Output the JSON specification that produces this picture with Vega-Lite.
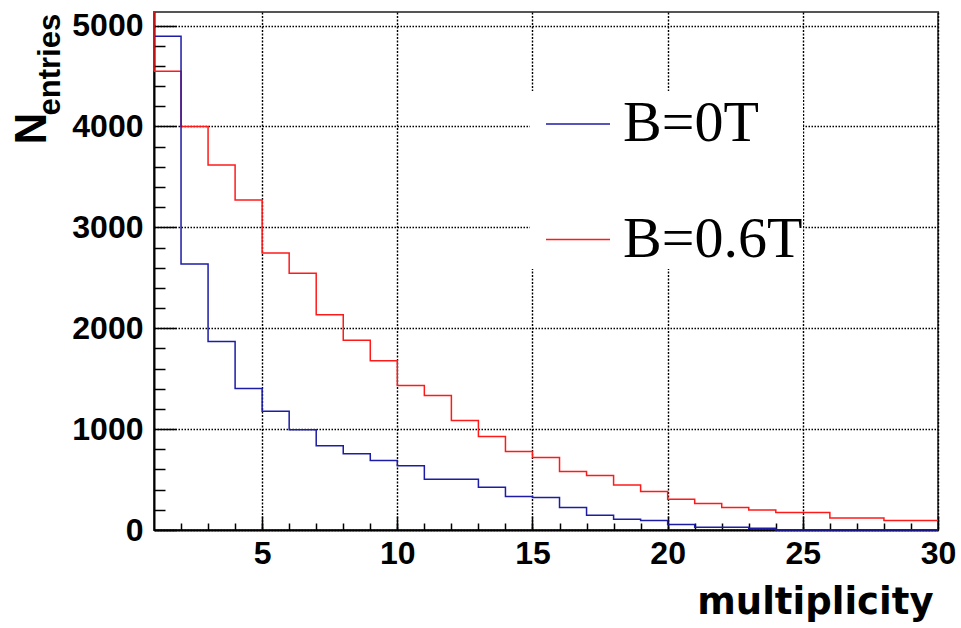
{
  "$schema": "https://vega.github.io/schema/vega-lite/v6.json",
  "width": 784,
  "height": 518,
  "autosize": {"type": "none"},
  "padding": {"left": 154, "top": 12, "right": 23, "bottom": 98},
  "background": "white",
  "config": {"view": {"stroke": "#555555", "strokeWidth": 2}},
  "datasets": {
    "hist": [
      {"m": 1, "n": 4548, "B": "B=0.6T"}, {"m": 2, "n": 4000, "B": "B=0.6T"}, {"m": 3, "n": 3619, "B": "B=0.6T"},
      {"m": 4, "n": 3272, "B": "B=0.6T"}, {"m": 5, "n": 2746, "B": "B=0.6T"}, {"m": 6, "n": 2544, "B": "B=0.6T"},
      {"m": 7, "n": 2134, "B": "B=0.6T"}, {"m": 8, "n": 1882, "B": "B=0.6T"}, {"m": 9, "n": 1678, "B": "B=0.6T"},
      {"m": 10, "n": 1432, "B": "B=0.6T"}, {"m": 11, "n": 1333, "B": "B=0.6T"}, {"m": 12, "n": 1085, "B": "B=0.6T"},
      {"m": 13, "n": 927, "B": "B=0.6T"}, {"m": 14, "n": 778, "B": "B=0.6T"}, {"m": 15, "n": 718, "B": "B=0.6T"},
      {"m": 16, "n": 579, "B": "B=0.6T"}, {"m": 17, "n": 540, "B": "B=0.6T"}, {"m": 18, "n": 447, "B": "B=0.6T"},
      {"m": 19, "n": 381, "B": "B=0.6T"}, {"m": 20, "n": 305, "B": "B=0.6T"}, {"m": 21, "n": 262, "B": "B=0.6T"},
      {"m": 22, "n": 222, "B": "B=0.6T"}, {"m": 23, "n": 199, "B": "B=0.6T"}, {"m": 24, "n": 173, "B": "B=0.6T"},
      {"m": 25, "n": 173, "B": "B=0.6T"}, {"m": 26, "n": 120, "B": "B=0.6T"}, {"m": 27, "n": 120, "B": "B=0.6T"},
      {"m": 28, "n": 93, "B": "B=0.6T"}, {"m": 29, "n": 93, "B": "B=0.6T"}, {"m": 30, "n": 93, "B": "B=0.6T"},
      {"m": 1, "n": 4895, "B": "B=0T"}, {"m": 2, "n": 2637, "B": "B=0T"}, {"m": 3, "n": 1869, "B": "B=0T"},
      {"m": 4, "n": 1403, "B": "B=0T"}, {"m": 5, "n": 1178, "B": "B=0T"}, {"m": 6, "n": 993, "B": "B=0T"},
      {"m": 7, "n": 834, "B": "B=0T"}, {"m": 8, "n": 755, "B": "B=0T"}, {"m": 9, "n": 688, "B": "B=0T"},
      {"m": 10, "n": 637, "B": "B=0T"}, {"m": 11, "n": 504, "B": "B=0T"}, {"m": 12, "n": 504, "B": "B=0T"},
      {"m": 13, "n": 425, "B": "B=0T"}, {"m": 14, "n": 332, "B": "B=0T"}, {"m": 15, "n": 322, "B": "B=0T"},
      {"m": 16, "n": 222, "B": "B=0T"}, {"m": 17, "n": 147, "B": "B=0T"}, {"m": 18, "n": 107, "B": "B=0T"},
      {"m": 19, "n": 93, "B": "B=0T"}, {"m": 20, "n": 54, "B": "B=0T"}, {"m": 21, "n": 28, "B": "B=0T"},
      {"m": 22, "n": 28, "B": "B=0T"}, {"m": 23, "n": 18, "B": "B=0T"}, {"m": 24, "n": 0, "B": "B=0T"},
      {"m": 25, "n": 0, "B": "B=0T"}, {"m": 26, "n": 0, "B": "B=0T"}, {"m": 27, "n": 0, "B": "B=0T"},
      {"m": 28, "n": 0, "B": "B=0T"}, {"m": 29, "n": 0, "B": "B=0T"}, {"m": 30, "n": 0, "B": "B=0T"}
    ],
    "edge": [{"m": 1, "n": 4548, "n2": 5135}]
  },
  "resolve": {"axis": {"x": "independent", "y": "independent"}},
  "layer": [
    {
      "data": {"name": "hist"},
      "transform": [{"filter": "datum.B === 'B=0.6T'"}],
      "mark": {"type": "line", "interpolate": "step-after", "strokeWidth": 1.5},
      "encoding": {
        "x": {
          "field": "m", "type": "quantitative",
          "scale": {"domain": [1, 30], "nice": false, "zero": false},
          "axis": {
            "orient": "bottom", "values": [5, 10, 15, 20, 25, 30], "format": "d",
            "ticks": false, "domainColor": "black", "domainWidth": 2,
            "labelFont": "Liberation Sans", "labelFontWeight": "bold", "labelFontSize": 32, "labelColor": "black",
            "labelPadding": 8, "labelFlush": false, "labelOverlap": false, "labelBound": false,
            "grid": true, "gridColor": "black", "gridDash": [2, 1.5], "gridWidth": 1.4, "gridOpacity": 1,
            "title": "multiplicity", "titleFont": "DejaVu Sans", "titleFontWeight": "bold", "titleFontSize": 37,
            "titleColor": "black", "titleAlign": "right", "titleBaseline": "alphabetic", "titleX": 779, "titleY": 83
          }
        },
        "y": {
          "field": "n", "type": "quantitative",
          "scale": {"domain": [0, 5135], "nice": false},
          "axis": {
            "orient": "left", "values": [0, 1000, 2000, 3000, 4000, 5000], "format": "d",
            "ticks": false, "domainColor": "black", "domainWidth": 2,
            "labelFont": "Liberation Sans", "labelFontWeight": "bold", "labelFontSize": 32, "labelColor": "black",
            "labelPadding": 11, "labelOverlap": false, "labelBound": false, "labelFlush": false,
            "grid": true, "gridColor": "black", "gridDash": [1.5, 1.5], "gridWidth": 1.4, "gridOpacity": 1,
            "title": "N", "titleFont": "Liberation Sans", "titleFontWeight": "bold", "titleFontSize": 44,
            "titleColor": "black", "titleAngle": 270, "titleAlign": "left", "titleBaseline": "alphabetic",
            "titleX": -109, "titleY": 132
          }
        },
        "color": {
          "field": "B", "type": "nominal",
          "scale": {"domain": ["B=0T", "B=0.6T"], "range": ["#1c1ca6", "#ff1a1a"]},
          "legend": {
            "orient": "none", "legendX": 376, "legendY": 79, "title": null,
            "fillColor": "white", "padding": 0, "symbolOffset": 15,
            "symbolType": "stroke", "symbolSize": 4096, "symbolStrokeWidth": 1.5,
            "labelFont": "Liberation Serif", "labelFontSize": 58, "labelColor": "black",
            "labelOffset": 12, "rowPadding": 53.5, "labelLimit": 500
          }
        }
      }
    },
    {
      "data": {"name": "hist"},
      "transform": [{"filter": "datum.B === 'B=0T'"}],
      "mark": {"type": "line", "interpolate": "step-after", "strokeWidth": 1.5},
      "encoding": {
        "x": {
          "field": "m", "type": "quantitative",
          "axis": {
            "orient": "bottom", "values": [5, 10, 15, 20, 25, 30], "offset": -14,
            "ticks": true, "tickSize": 14, "tickWidth": 1.5, "tickColor": "black",
            "domain": false, "labels": false, "grid": false, "title": null
          }
        },
        "y": {
          "field": "n", "type": "quantitative",
          "axis": {
            "orient": "left", "values": [0, 1000, 2000, 3000, 4000, 5000], "offset": -22,
            "ticks": true, "tickSize": 22, "tickWidth": 1.5, "tickColor": "black",
            "domain": false, "labels": false, "grid": false,
            "title": "entries", "titleFont": "Liberation Sans", "titleFontWeight": "bold", "titleFontSize": 31,
            "titleColor": "black", "titleAngle": 270, "titleAlign": "left", "titleBaseline": "alphabetic",
            "titleX": -117, "titleY": 103
          }
        },
        "color": {"field": "B", "type": "nominal"}
      }
    },
    {
      "data": {"name": "edge"},
      "mark": {"type": "rule", "color": "#ff1a1a", "strokeWidth": 1.5},
      "encoding": {
        "x": {
          "field": "m", "type": "quantitative",
          "axis": {
            "orient": "bottom", "values": [2,3,4,5,6,7,8,9,10,11,12,13,14,15,16,17,18,19,20,21,22,23,24,25,26,27,28,29], "offset": -7,
            "ticks": true, "tickSize": 7, "tickWidth": 1.5, "tickColor": "black",
            "domain": false, "labels": false, "grid": false, "title": null
          }
        },
        "y": {
          "field": "n", "type": "quantitative",
          "axis": {
            "orient": "left", "values": [200,400,600,800,1200,1400,1600,1800,2200,2400,2600,2800,3200,3400,3600,3800,4200,4400,4600,4800], "offset": -11,
            "ticks": true, "tickSize": 11, "tickWidth": 1.5, "tickColor": "black",
            "domain": false, "labels": false, "grid": false, "title": null
          }
        },
        "y2": {"field": "n2"}
      }
    }
  ]
}
